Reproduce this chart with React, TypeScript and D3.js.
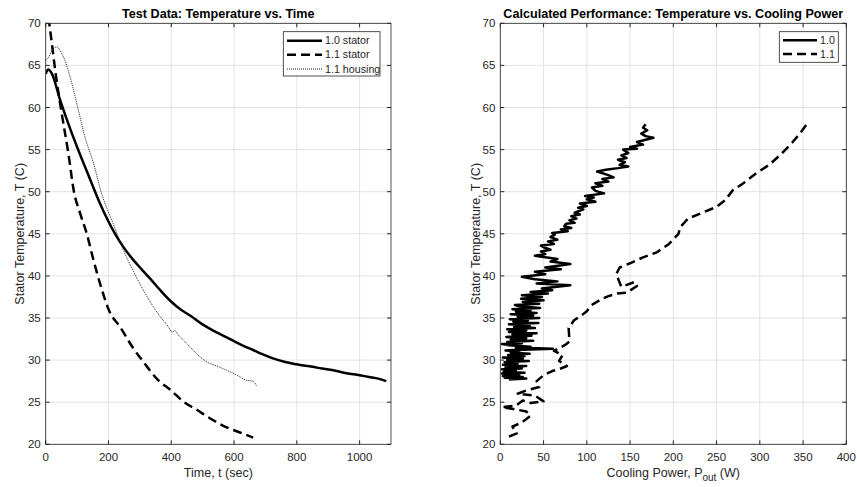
import React from "react";
import * as d3 from "d3";

// ---------- Data ----------
// Left: Test Data (time in sec, temperature in C)
const stator10Time = [0, 8, 20, 45, 70, 100, 140, 173, 221, 250, 279, 305, 332, 365, 401, 430, 460, 497, 534, 565, 597, 630, 661, 690, 724, 760, 799, 850, 880, 916, 950, 1000, 1030, 1060, 1085];
const stator10Temp = [64.0, 64.5, 64.0, 61.0, 58.3, 55.3, 51.6, 48.6, 45.0, 43.3, 41.9, 40.8, 39.7, 38.3, 36.9, 36.0, 35.3, 34.3, 33.5, 32.9, 32.3, 31.7, 31.2, 30.7, 30.2, 29.8, 29.5, 29.2, 29.0, 28.8, 28.5, 28.2, 28.0, 27.8, 27.5];

const stator11Time = [0, 11.5, 20, 30, 51, 72, 90, 110, 131, 150, 173, 204, 236, 279, 311, 359, 396, 438, 481, 523, 571, 619, 661];
const stator11Temp = [74, 70, 67.5, 64.5, 59.3, 54.6, 50.0, 47.4, 45.0, 42.2, 39.1, 35.7, 34.0, 31.4, 29.8, 27.6, 26.5, 25.1, 24.1, 23.1, 22.1, 21.4, 20.8];

const housing11Time = [0, 10, 20, 35, 50, 61, 83, 104, 125, 152, 178, 215, 247, 280, 311, 340, 364, 390, 403, 410, 425, 459, 485, 513, 545, 576, 610, 640, 660, 672];
const housing11Temp = [65.6, 66.0, 66.8, 67.2, 66.5, 65.6, 62.9, 59.7, 56.5, 53.4, 49.8, 46.2, 43.1, 40.5, 38.3, 36.5, 35.2, 34.0, 33.3, 33.5, 32.9, 31.6, 30.6, 29.8, 29.3, 28.8, 28.2, 27.6, 27.5, 26.9];

// Right: Calculated Performance (cooling power W, temperature C)
const power10 = [10, 30, 5, 26, 3, 22, 2, 28, 4, 18, 2, 25, 6, 30, 3, 20, 5, 33, 8, 26, 3, 28, 9, 34, 12, 22, 6, 61, 18, 35, 10, 2, 25, 8, 38, 12, 30, 7, 36, 14, 42, 10, 30, 8, 40, 16, 34, 10, 44, 15, 32, 11, 45, 20, 38, 12, 42, 18, 35, 14, 46, 22, 17, 45, 26, 50, 24, 48, 25, 55, 35, 60, 48, 81, 42, 66, 40, 25, 52, 40, 70, 52, 81, 58, 66,
  40, 52, 47, 58, 50, 47, 62, 55, 66, 58, 63, 60, 78, 70, 82, 74, 76, 86, 80, 88, 82, 92, 86, 96, 90, 100, 92, 110, 100, 108, 98, 120, 110, 106, 118, 110, 125, 118, 131, 124, 112, 122, 136, 148, 138, 144, 136, 146, 140, 148, 142, 158, 150, 165, 158, 177, 168, 163, 170, 165, 168];
const temp10 = [27.7, 27.8, 27.9, 28.0, 28.1, 28.25, 28.4, 28.5, 28.6, 28.75, 28.9, 29.0, 29.15, 29.3, 29.45, 29.6, 29.75, 29.9, 30.0, 30.15, 30.3, 30.45, 30.6, 30.75, 30.9, 31.0, 31.15, 31.35, 31.5, 31.6, 31.75, 31.9, 32.0, 32.15, 32.3, 32.45, 32.6, 32.75, 32.9, 33.05, 33.2, 33.35, 33.5, 33.65, 33.8, 33.95, 34.1, 34.25, 34.4, 34.55, 34.7, 34.85, 35.0, 35.15, 35.3, 35.45, 35.6, 35.75, 35.9, 36.05, 36.2, 36.4, 36.55, 36.7, 36.9, 37.1, 37.3, 37.5, 37.7, 37.9, 38.1, 38.3, 38.5, 38.9, 39.1, 39.35, 39.6, 39.9, 40.2, 40.5, 40.8, 41.0, 41.4, 41.7, 42.0,
  42.4, 42.6, 42.9, 43.1, 43.4, 43.6, 43.8, 44.1, 44.3, 44.6, 44.9, 45.1, 45.3, 45.5, 45.7, 45.9, 46.2, 46.3, 46.6, 46.8, 47.1, 47.3, 47.5, 47.9, 48.1, 48.3, 48.6, 48.8, 49.1, 49.3, 49.5, 49.8, 50.1, 50.5, 50.7, 51.0, 51.2, 51.5, 51.7, 52.0, 52.4, 52.6, 52.8, 53.0, 53.2, 53.5, 53.8, 54.0, 54.3, 54.6, 55.0, 55.1, 55.3, 55.6, 55.9, 56.4, 56.6, 56.9, 57.3, 57.6, 58.0];

const power11 = [10, 19, 14, 25, 35, 30, 15, 2, 18, 26, 35, 50, 40, 20, 30, 45, 42, 50, 60, 70, 77, 68, 72, 62, 75, 80, 79, 85, 95, 100, 105, 118, 125, 135, 146, 158, 156, 140, 134, 138, 150, 165, 181, 195, 206, 208, 217, 231, 250, 260, 269, 281, 296, 311, 325, 338, 347, 354];
const temp11 = [20.9, 21.3, 22.1, 22.6, 23.4, 23.9, 24.2, 24.4, 24.6, 25.2, 24.9, 25.1, 25.8, 26.0, 26.4, 26.8, 27.5, 28.2, 28.7, 29.0, 29.3, 29.9, 30.6, 31.1, 31.8, 32.2, 33.8, 34.7, 35.4, 35.8, 36.5, 37.3, 37.6, 37.9, 38.0, 38.8, 39.3, 38.7, 40.2, 41.0, 41.5, 42.2, 42.8, 43.8, 45.0, 45.8, 46.8, 47.4, 48.2, 49.0, 50.2, 51.0, 52.2, 53.2, 54.5, 55.9, 57.0, 58.0];

const leftXTicks = [0, 200, 400, 600, 800, 1000];
const rightXTicks = [0, 50, 100, 150, 200, 250, 300, 350, 400];
const yTicks = [20, 25, 30, 35, 40, 45, 50, 55, 60, 65, 70];

const leftTitle = "Test Data: Temperature vs. Time";
const rightTitle = "Calculated Performance: Temperature vs. Cooling Power";
const yLabel = "Stator Temperature, T (C)";
const leftLegend = ["1.0 stator", "1.1 stator", "1.1 housing"];
const rightLegend = ["1.0", "1.1"];

// ---------- Layout ----------
const W = 857, H = 487;
const TOP = 23.3, BOTTOM = 444.3;
const FONT = "'Liberation Sans', Arial, Helvetica, sans-serif";
const TXT = "#262626";
const AX = "#262626";
const GRID = "#e3e3e3";

const yScale = d3.scaleLinear().domain([20, 70]).range([BOTTOM, TOP]);

type Series = { xs: number[]; ys: number[]; stroke: string; width: number; dash?: string; smooth?: boolean };

function Panel(props: {
  id: string;
  x0: number; x1: number;
  domain: [number, number];
  xTicks: number[];
  title: string;
  xLabel: React.ReactNode;
  yLabelX: number;
  series: Series[];
  legend: { labels: string[]; box: [number, number, number, number]; lineX: [number, number]; rowsY: number[] };
}) {
  const { id, x0, x1, domain, xTicks, title, xLabel, yLabelX, series, legend } = props;
  const xs = d3.scaleLinear().domain(domain).range([x0, x1]);
  const cx = (x0 + x1) / 2;
  const TL = 4;
  return (
    <g>
      <defs>
        <clipPath id={id}>
          <rect x={x0} y={TOP} width={x1 - x0} height={BOTTOM - TOP} />
        </clipPath>
      </defs>
      <rect x={x0} y={TOP} width={x1 - x0} height={BOTTOM - TOP} fill="#fff" />
      {xTicks.map((t) => (
        <line key={"gx" + t} x1={xs(t)} x2={xs(t)} y1={TOP} y2={BOTTOM} stroke={GRID} strokeWidth={1} />
      ))}
      {yTicks.map((t) => (
        <line key={"gy" + t} x1={x0} x2={x1} y1={yScale(t)} y2={yScale(t)} stroke={GRID} strokeWidth={1} />
      ))}
      <g clipPath={`url(#${id})`}>
        {series.map((s, i) => {
          const pts = s.xs.map((x, j) => [xs(x), yScale(s.ys[j])] as [number, number]);
          const line = d3.line();
          if (s.smooth) line.curve(d3.curveMonotoneX);
          return (
            <path key={i} d={line(pts) || ""} fill="none" stroke={s.stroke} strokeWidth={s.width}
              strokeDasharray={s.dash} strokeLinejoin="round" strokeLinecap="butt" />
          );
        })}
      </g>
      {xTicks.map((t) => (
        <g key={"tx" + t}>
          <line x1={xs(t)} x2={xs(t)} y1={BOTTOM} y2={BOTTOM - TL} stroke={AX} />
          <line x1={xs(t)} x2={xs(t)} y1={TOP} y2={TOP + TL} stroke={AX} />
          <text x={xs(t)} y={BOTTOM + 17} textAnchor="middle" fontSize={11.5} fill={TXT} fontFamily={FONT}>{t}</text>
        </g>
      ))}
      {yTicks.map((t) => (
        <g key={"ty" + t}>
          <line x1={x0} x2={x0 + TL} y1={yScale(t)} y2={yScale(t)} stroke={AX} />
          <line x1={x1} x2={x1 - TL} y1={yScale(t)} y2={yScale(t)} stroke={AX} />
          <text x={x0 - 5} y={yScale(t)} dy="0.35em" textAnchor="end" fontSize={11.5} fill={TXT} fontFamily={FONT}>{t}</text>
        </g>
      ))}
      <rect x={x0} y={TOP} width={x1 - x0} height={BOTTOM - TOP} fill="none" stroke={AX} strokeWidth={0.8} />
      <text x={cx} y={18} textAnchor="middle" fontSize={12.6} fontWeight="bold" fill="#000" fontFamily={FONT}>{title}</text>
      <text x={cx} y={477} textAnchor="middle" fontSize={12.5} fill={TXT} fontFamily={FONT}>{xLabel}</text>
      <text transform={`translate(${yLabelX},${(TOP + BOTTOM) / 2}) rotate(-90)`} textAnchor="middle" fontSize={12.5} fill={TXT} fontFamily={FONT}>{yLabel}</text>
      <rect x={legend.box[0]} y={legend.box[1]} width={legend.box[2]} height={legend.box[3]} fill="#fff" stroke={AX} strokeWidth={0.8} />
      {legend.labels.map((lab, i) => (
        <g key={lab}>
          <line x1={legend.lineX[0]} x2={legend.lineX[1]} y1={legend.rowsY[i]} y2={legend.rowsY[i]}
            stroke={series[i].stroke} strokeWidth={series[i].width} strokeDasharray={series[i].dash} />
          <text x={legend.lineX[1] + 3} y={legend.rowsY[i]} dy="0.35em" fontSize={10.7} fill={TXT} fontFamily={FONT}>{lab}</text>
        </g>
      ))}
    </g>
  );
}

export default function App() {
  return (
    <svg width={W} height={H} style={{ position: "absolute", left: 0, top: 0, background: "#fff" }}>
      <rect x={0} y={0} width={W} height={H} fill="#fff" />
      <Panel
        id="clipL"
        x0={45.7} x1={391}
        domain={[0, 1100]}
        xTicks={leftXTicks}
        title={leftTitle}
        xLabel="Time, t (sec)"
        yLabelX={24}
        series={[
          { xs: stator10Time, ys: stator10Temp, stroke: "#000", width: 2.5, smooth: true },
          { xs: stator11Time, ys: stator11Temp, stroke: "#000", width: 2.5, dash: "9,5", smooth: true },
          { xs: housing11Time, ys: housing11Temp, stroke: "#222", width: 1, dash: "1,1", smooth: true },
        ]}
        legend={{ labels: leftLegend, box: [283.3, 31.7, 96.7, 44.3], lineX: [287, 322], rowsY: [40.7, 54.7, 69] }}
      />
      <Panel
        id="clipR"
        x0={500.3} x1={846.3}
        domain={[0, 400]}
        xTicks={rightXTicks}
        title={rightTitle}
        xLabel={<>Cooling Power, P<tspan dy="4" fontSize={10}>out</tspan><tspan dy="-4"> (W)</tspan></>}
        yLabelX={480}
        series={[
          { xs: power10, ys: temp10, stroke: "#000", width: 2.5 },
          { xs: power11, ys: temp11, stroke: "#000", width: 2.5, dash: "9,5" },
        ]}
        legend={{ labels: rightLegend, box: [779.3, 31.7, 59, 30.6], lineX: [783, 817], rowsY: [40.3, 54] }}
      />
    </svg>
  );
}
